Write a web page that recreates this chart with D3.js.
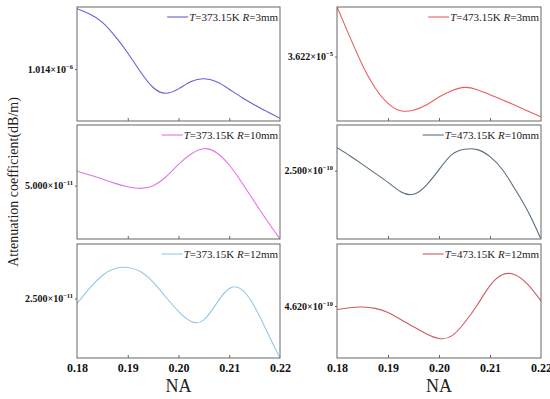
<!DOCTYPE html>
<html>
<head>
<meta charset="utf-8">
<script src="https://cdn.jsdelivr.net/npm/d3@7"></script>
<style>
    body { margin: 0; background: #fff; }
    svg { display: block; font-family: 'Liberation Serif', 'Times New Roman', serif; }
    .frame { fill: none; stroke: #666; stroke-width: 1; }
    .tick line { stroke: #666; }
    .domain { display: none; }
</style>
</head>
<body>
<div id="chart"></div>
<script>
const WIDTH = 550;
const HEIGHT = 399;

// NA samples shared by every panel
const na = [0.18, 0.1825, 0.185, 0.1875, 0.19, 0.1925, 0.195, 0.1975, 0.2,
    0.2025, 0.205, 0.2075, 0.21, 0.2125, 0.215, 0.2175, 0.22];
const naTicks = [0.18, 0.19, 0.2, 0.21, 0.22];

// attenuation values, in units of the panel's exponent (x10^-n dB/m)
const t373r3 = [1.0669, 1.0622, 1.0549, 1.0428, 1.0281, 1.0116, 0.9978, 0.9928, 0.9966,
    1.0031, 1.0055, 1.0028, 0.9963, 0.989, 0.9825, 0.9766, 0.9708];
const t373r10 = [5.128, 5.093, 5.058, 5.02, 4.991, 4.976, 5.0, 5.076, 5.187,
    5.278, 5.324, 5.289, 5.181, 5.026, 4.857, 4.69, 4.532];
const t373r12 = [2.455, 2.591, 2.703, 2.764, 2.773, 2.738, 2.644, 2.514, 2.388,
    2.3, 2.314, 2.458, 2.588, 2.579, 2.429, 2.205, 1.979];
const t473r3 = [3.709, 3.657, 3.607, 3.567, 3.54, 3.527, 3.528, 3.537, 3.551,
    3.562, 3.568, 3.564, 3.555, 3.546, 3.536, 3.526, 3.516];
const t473r10 = [2.5202, 2.5132, 2.5056, 2.4977, 2.4898, 2.4816, 2.4793, 2.4872, 2.5009,
    2.5141, 2.5188, 2.5185, 2.5123, 2.5006, 2.4831, 2.4638, 2.4401];
const t473r12 = [4.617, 4.6185, 4.6191, 4.6179, 4.6144, 4.6082, 4.6018, 4.5956, 4.5915,
    4.5938, 4.6053, 4.6209, 4.6379, 4.6476, 4.6473, 4.6385, 4.6244];

// one labelled y tick per panel
const yTickMantissa = ['1.014', '5.000', '2.500', '3.622', '2.500', '4.620'];
const yTickExponent = ['-6', '-11', '-11', '-5', '-10', '-10'];
const yDomains = [[0.9684, 1.0684], [4.532, 5.532], [1.979, 2.979],
    [3.509, 3.709], [2.4401, 2.5401], [4.5744, 4.6744]];

const temps = ['373.15', '373.15', '373.15', '473.15', '473.15', '473.15'];
const radii = ['3', '10', '12', '3', '10', '12'];
const series = [t373r3, t373r10, t373r12, t473r3, t473r10, t473r12];
const colors = ['#6262d6', '#e472e8', '#94c8e6', '#e8605e', '#56707e', '#cf5a62'];

const COLUMNS = [{ left: 77, right: 280 }, { left: 337, right: 541 }];
const ROW_TOPS = [7, 125, 244];
const PANEL_HEIGHT = 114;

const svg = d3.select('#chart').append('svg').attr('width', WIDTH).attr('height', HEIGHT);

series.forEach((values, i) => {
    const col = COLUMNS[Math.floor(i / 3)];
    const row = i % 3;
    const top = ROW_TOPS[row];
    const bottom = top + PANEL_HEIGHT;

    const x = d3.scaleLinear().domain([0.18, 0.22]).range([col.left, col.right]);
    const y = d3.scaleLinear().domain(yDomains[i]).range([bottom, top]);

    const g = svg.append('g');

    g.append('clipPath').attr('id', `clip${i}`)
        .append('rect')
        .attr('x', col.left).attr('y', top)
        .attr('width', col.right - col.left).attr('height', PANEL_HEIGHT);

    // inner ticks along the bottom edge
    g.append('g')
        .attr('transform', `translate(0, ${bottom})`)
        .call(d3.axisBottom(x).tickValues([0.19, 0.2, 0.21]).tickSize(-3).tickFormat(''));

    // tick labels only under the last row
    if (row === 2) {
        const xLabels = g.append('g')
            .attr('transform', `translate(0, ${bottom})`)
            .call(d3.axisBottom(x).tickValues(naTicks).tickSize(0).tickPadding(5).tickFormat(d3.format('.2f')));
        xLabels.selectAll('text')
            .attr('fill', '#111')
            .style('font-family', 'Liberation Serif')
            .style('font-size', '12px')
            .style('font-weight', 'bold');

        g.append('text')
            .attr('x', (col.left + col.right) / 2)
            .attr('y', 392)
            .attr('text-anchor', 'middle')
            .attr('fill', '#222')
            .style('font-size', '18px')
            .text('NA');
    }

    // single labelled y tick
    const tickValue = +yTickMantissa[i];
    g.append('g')
        .attr('transform', `translate(${col.left}, 0)`)
        .call(d3.axisLeft(y).tickValues([tickValue]).tickSize(2).tickFormat(''));

    const yLabel = g.append('text')
        .attr('x', col.left - 4)
        .attr('y', y(tickValue) + 3.5)
        .attr('text-anchor', 'end')
        .attr('fill', '#111')
        .style('font-size', '10px')
        .style('font-weight', 'bold');
    yLabel.append('tspan').text(`${yTickMantissa[i]}\u00d710`);
    yLabel.append('tspan')
        .attr('dy', -4)
        .style('font-size', '6.5px')
        .text(yTickExponent[i].replace('-', '\u2212'));

    const line = d3.line()
        .x((d, k) => x(na[k]))
        .y((d) => y(d))
        .curve(d3.curveNatural);

    g.append('path')
        .datum(values)
        .attr('clip-path', `url(#clip${i})`)
        .attr('fill', 'none')
        .attr('stroke', colors[i])
        .attr('stroke-width', 1.1)
        .attr('d', line);

    g.append('rect')
        .attr('class', 'frame')
        .attr('x', col.left).attr('y', top)
        .attr('width', col.right - col.left).attr('height', PANEL_HEIGHT);

    // legend, anchored to the top right corner
    const legendText = g.append('text')
        .attr('x', col.right - 2)
        .attr('y', top + 13.5)
        .attr('text-anchor', 'end')
        .attr('fill', '#222')
        .style('font-size', '11px');
    legendText.append('tspan').style('font-style', 'italic').text('T');
    legendText.append('tspan').text(`=${temps[i]}K `);
    legendText.append('tspan').style('font-style', 'italic').text('R');
    legendText.append('tspan').text(`=${radii[i]}mm`);

    const textStart = col.right - 2 - legendText.node().getComputedTextLength();
    g.append('line')
        .attr('x1', textStart - 22).attr('x2', textStart - 1)
        .attr('y1', top + 10).attr('y2', top + 10)
        .attr('stroke', colors[i])
        .attr('stroke-width', 1.1);
});

svg.append('text')
    .attr('transform', 'translate(18, 182) rotate(-90)')
    .attr('text-anchor', 'middle')
    .attr('fill', '#222')
    .style('font-size', '14px')
    .text('Attenuation coefficient(dB/m)');
</script>
</body>
</html>
